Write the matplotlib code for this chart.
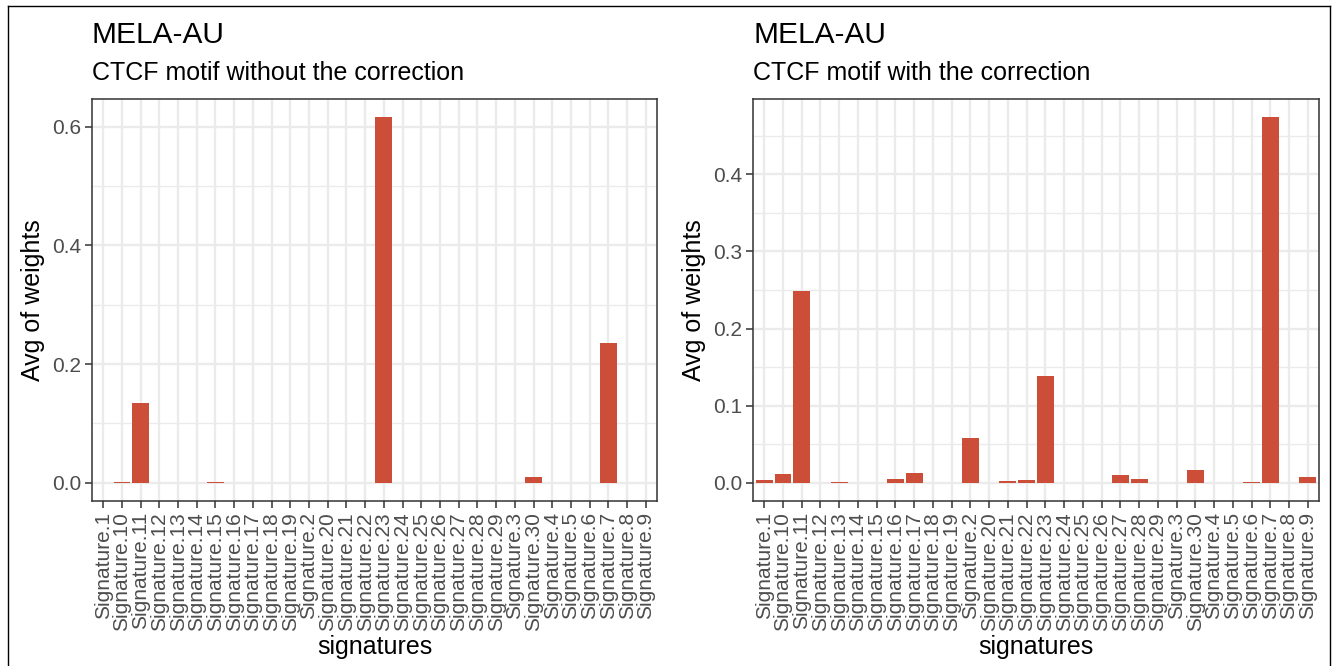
import matplotlib
matplotlib.use("Agg")
import matplotlib.pyplot as plt
from matplotlib.lines import Line2D
from matplotlib.ticker import MultipleLocator

plt.rcParams['font.family'] = ['Liberation Sans', 'DejaVu Sans']

# signatures in the (alphabetical) order ggplot used
signatures = ["Signature.1", "Signature.10", "Signature.11", "Signature.12", "Signature.13",
              "Signature.14", "Signature.15", "Signature.16", "Signature.17", "Signature.18",
              "Signature.19", "Signature.2", "Signature.20", "Signature.21", "Signature.22",
              "Signature.23", "Signature.24", "Signature.25", "Signature.26", "Signature.27",
              "Signature.28", "Signature.29", "Signature.3", "Signature.30", "Signature.4",
              "Signature.5", "Signature.6", "Signature.7", "Signature.8", "Signature.9"]

# avg of weights, CTCF motif without the correction
weights_raw = [0.0, 0.001, 0.135, 0.0, 0.0, 0.0, 0.002, 0.0, 0.0, 0.0,
               0.0, 0.0, 0.0, 0.0, 0.0, 0.616, 0.0, 0.0, 0.0, 0.0,
               0.0, 0.0, 0.0, 0.009, 0.0, 0.0, 0.0, 0.236, 0.0, 0.0]

# avg of weights, CTCF motif with the correction
weights_corr = [0.004, 0.011, 0.249, 0.0, 0.001, 0.0, 0.0, 0.005, 0.012, 0.0,
                0.0, 0.058, 0.0, 0.002, 0.003, 0.139, 0.0, 0.0, 0.0, 0.010,
                0.005, 0.0, 0.0, 0.017, 0.0, 0.0, 0.001, 0.474, 0.0, 0.008]

title = "MELA-AU"
subtitles = ["CTCF motif without the correction", "CTCF motif with the correction"]
yticks = [[0.0, 0.2, 0.4, 0.6], [0.0, 0.1, 0.2, 0.3, 0.4]]

W, H = 1337, 666
BAR = "#CC4E38"
GRID = "#EBEBEB"
DARK = "#333333"
TICKTXT = "#4D4D4D"

fig = plt.figure(figsize=(W / 100, H / 100), dpi=100)


def px_axes(x0, x1, y0, y1):
    # pixel box (top-left origin) -> figure fraction
    return fig.add_axes([x0 / W, 1 - y1 / H, (x1 - x0) / W, (y1 - y0) / H])


def panel(ax, values, ticks, minor_step, subtitle):
    x = list(range(len(signatures)))
    ax.bar(x, values, width=0.9, color=BAR, zorder=3)
    n = len(signatures)
    ax.set_xlim(-0.6, n - 1 + 0.6)
    top = max(values)
    ax.set_ylim(-0.05 * top, top * 1.05)

    ax.set_xticks(x)
    ax.set_xticklabels(signatures, rotation=90, ha="center", va="top",
                       fontsize=15, color=TICKTXT)
    ax.set_yticks(ticks)
    ax.set_yticklabels([f"{t:.1f}" for t in ticks], fontsize=15, color=TICKTXT)
    ax.yaxis.set_minor_locator(MultipleLocator(minor_step))
    ax.tick_params(axis="both", which="major", length=5, width=1.1, color=DARK, pad=3)
    ax.tick_params(axis="y", which="minor", length=0)

    ax.grid(True, which="major", color=GRID, linewidth=1.7, zorder=0)
    ax.grid(True, which="minor", axis="y", color=GRID, linewidth=1.0, zorder=0)
    ax.set_axisbelow(True)
    for s in ax.spines.values():
        s.set_color(DARK)
        s.set_linewidth(1.1)

    ax.set_xlabel("signatures", fontsize=18, labelpad=3)
    ax.set_ylabel("Avg of weights", fontsize=18, labelpad=5)

    pos = ax.get_position()
    fig.text(pos.x0, 1 - 43 / H, title, fontsize=21.5, ha="left", va="baseline")
    fig.text(pos.x0, 1 - 80 / H, subtitle, fontsize=18, ha="left", va="baseline")


ax1 = px_axes(92, 657, 99, 501)
panel(ax1, weights_raw, yticks[0], 0.1, subtitles[0])

ax2 = px_axes(753, 1319, 99, 501)
panel(ax2, weights_corr, yticks[1], 0.05, subtitles[1])

# thin frame around the whole picture
for xs, ys in [((8, 8), (6, H)), ((8, 1330), (6, 6)), ((1330, 1330), (6, H))]:
    fig.add_artist(Line2D([v / W for v in xs], [1 - v / H for v in ys],
                          color="black", linewidth=1.0, transform=fig.transFigure))

fig.savefig("out.png", dpi=100)
